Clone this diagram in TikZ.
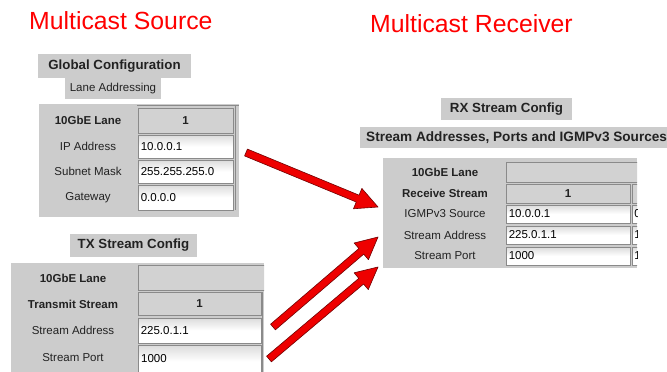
\documentclass[tikz,border=0pt]{standalone}
\usepackage{fontspec}
\setmainfont{Liberation Sans}
\usetikzlibrary{calc}
\definecolor{panel}{HTML}{CCCCCC}
\definecolor{hdr}{HTML}{D2D2D2}
\definecolor{edge}{HTML}{8A8A8A}
\definecolor{ink}{HTML}{222222}
\definecolor{arrowred}{HTML}{EE0000}
\definecolor{arrowedge}{HTML}{700000}
\pgfdeclareverticalshading{valshade}{100bp}{color(0bp)=(white); color(50bp)=(white); color(100bp)=(black!28)}
\tikzset{
  bigtitle/.style={text=red, font=\fontsize{24.8}{28}\selectfont, anchor=base west, inner sep=0pt},
  titlebox/.style={fill=panel, text=ink, font=\bfseries\fontsize{13.3}{15}\selectfont, inner sep=0pt, anchor=center},
  subbox/.style={fill=panel, text=ink, font=\fontsize{11.5}{13}\selectfont, inner sep=0pt, anchor=center},
  lbl/.style={text=ink, font=\fontsize{11.5}{13}\selectfont, inner sep=0pt, anchor=center},
  blbl/.style={text=ink, font=\bfseries\fontsize{11.5}{13}\selectfont, inner sep=0pt, anchor=center},
  hdrcell/.style={fill=hdr, draw=edge, line width=1pt, inner sep=0pt},
  hdrtext/.style={text=ink, font=\bfseries\fontsize{11.5}{13}\selectfont, inner sep=0pt},
  valcell/.style={shade, shading=valshade, draw=edge, line width=0.8pt, inner sep=0pt},
  valtext/.style={text=black, font=\fontsize{11.5}{13}\selectfont, inner sep=0pt, anchor=west},
  coledge/.style={draw=edge, line width=1pt},
}
% cell drawn from corners (as a named node)
\newcommand\cellat[4]{% name, style, corner1, corner2
  \path let \p1=(#3), \p2=(#4) in
    node[#2, minimum width=\x2-\x1, minimum height=\y1-\y2, anchor=center]
      (#1) at ($(#3)!0.5!(#4)$) {};}
\newcommand\fatarrow[3]{% from, to, headname
  \coordinate (#3) at ($(#2)!22pt!(#1)$);
  \filldraw[fill=arrowred, draw=arrowedge, line width=0.6pt, line join=round]
    ($(#1)!3.7pt!90:(#2)$) -- ($(#3)!3.7pt!-90:(#1)$) -- ($(#3)!11pt!-90:(#1)$)
    -- (#2) -- ($(#3)!11pt!90:(#1)$) -- ($(#3)!3.7pt!90:(#1)$)
    -- ($(#1)!3.7pt!-90:(#2)$) -- cycle;}
\begin{document}
\begin{tikzpicture}[x=1pt, y=-1pt]
\clip (0,0) rectangle (667,372);
\fill[white] (0,0) rectangle (667,372);

% ---------- titles ----------
\node[bigtitle] (srctitle) at (29,30) {Multicast Source};
\node[bigtitle] (rcvtitle) at (370,32) {Multicast Receiver};

% ---------- Global configuration ----------
\node[titlebox, minimum width=153pt, minimum height=24pt] (gc) at (114.5,66) {Global Configuration};
\node[subbox, minimum width=96pt, minimum height=21pt] (la) at (113,88.5) {Lane Addressing};
\fill[panel] (39,104) rectangle (239,217);
\draw[coledge] (137,105.5) -- (239,105.5);
\draw[coledge] (235.5,105.5) -- (235.5,210);
\cellat{g1}{hdrcell}{138,108}{233,133}
\node[hdrtext] (g1t) at (g1) {1};
\cellat{g2}{valcell}{138,135}{233,158}
\cellat{g3}{valcell}{138,160}{233,183}
\cellat{g4}{valcell}{138,185}{233,210}
\node[valtext] (g2t) at ([xshift=3pt]g2.west) {10.0.0.1};
\node[valtext] (g3t) at ([xshift=3pt]g3.west) {255.255.255.0};
\node[valtext] (g4t) at ([xshift=3pt]g4.west) {0.0.0.0};
\node[blbl] (g1l) at (88,120.5) {10GbE Lane};
\node[lbl] (g2l) at (88,146.5) {IP Address};
\node[lbl] (g3l) at (88,171.5) {Subnet Mask};
\node[lbl] (g4l) at (88,197.5) {Gateway};

% ---------- TX stream config ----------
\node[titlebox, minimum width=127pt, minimum height=23pt] (tx) at (133.5,245.5) {TX Stream Config};
\fill[panel] (11,263) rectangle (264,375);
\begin{scope}
  \clip (11,263) rectangle (264,375);
  \cellat{t1}{hdrcell}{138,265.5}{268,290}
\end{scope}
\draw[coledge] (262.5,292) -- (262.5,375);
\cellat{t2}{hdrcell}{138,292}{261,315}
\node[hdrtext] (t2t) at (t2) {1};
\cellat{t3}{valcell}{138,318}{261,343}
\cellat{t4}{valcell}{138,345}{261,378}
\node[valtext] (t3t) at ([xshift=3pt]t3.west) {225.0.1.1};
\node[valtext] (t4t) at (141,358.5) {1000};
\node[blbl] (t1l) at (73,278) {10GbE Lane};
\node[blbl] (t2l) at (73,304) {Transmit Stream};
\node[lbl] (t3l) at (73,330.5) {Stream Address};
\node[lbl] (t4l) at (73,357.5) {Stream Port};

% ---------- RX stream config ----------
\node[titlebox, minimum width=131pt, minimum height=22pt] (rx) at (506.5,109) {RX Stream Config};
\node[titlebox, font=\bfseries\fontsize{13.6}{15}\selectfont, anchor=west, minimum height=21pt, inner xsep=6pt] (sa) at (360,137.5) {Stream Addresses, Ports and IGMPv3 Sources};
\fill[panel] (383,158) rectangle (637,268);
\begin{scope}
  \clip (383,158) rectangle (637,268);
  \cellat{r1}{hdrcell}{506,162}{641,182}
\end{scope}
\cellat{r2}{hdrcell}{506,184}{630,203}
\node[hdrtext] (r2t) at (r2) {1};
\cellat{r3}{valcell}{506,205}{630,223}
\cellat{r4}{valcell}{506,226}{630,244}
\cellat{r5}{valcell}{506,247}{630,265}
\node[valtext] (r3t) at ([xshift=3pt]r3.west) {10.0.0.1};
\node[valtext] (r4t) at ([xshift=3pt]r4.west) {225.0.1.1};
\node[valtext] (r5t) at ([xshift=3pt]r5.west) {1000};
\begin{scope}
  \clip (631,160) rectangle (637,268);
  \cellat{q2}{hdrcell}{632,184}{660,203}
  \cellat{q3}{valcell}{632,205}{660,223}
  \cellat{q4}{valcell}{632,226}{660,244}
  \cellat{q5}{valcell}{632,247}{660,265}
  \node[valtext] (q3t) at ([xshift=2.5pt]q3.west) {0};
  \node[valtext] (q4t) at ([xshift=2.5pt]q4.west) {1};
  \node[valtext] (q5t) at ([xshift=2.5pt]q5.west) {1};
\end{scope}
\node[blbl] (r1l) at (445,172) {10GbE Lane};
\node[blbl] (r2l) at (445,193.5) {Receive Stream};
\node[lbl] (r3l) at (445,214) {IGMPv3 Source};
\node[lbl] (r4l) at (445,235) {Stream Address};
\node[lbl] (r5l) at (445,256) {Stream Port};

% ---------- arrows ----------
\coordinate (a1s) at (246,152.5);
\coordinate (a1e) at (378,207);
\coordinate (a2s) at (273,327);
\coordinate (a2e) at (378,237);
\coordinate (a3s) at (269,359);
\coordinate (a3e) at (378,267);
\fatarrow{a1s}{a1e}{a1h}
\fatarrow{a2s}{a2e}{a2h}
\fatarrow{a3s}{a3e}{a3h}
\end{tikzpicture}
\end{document}
